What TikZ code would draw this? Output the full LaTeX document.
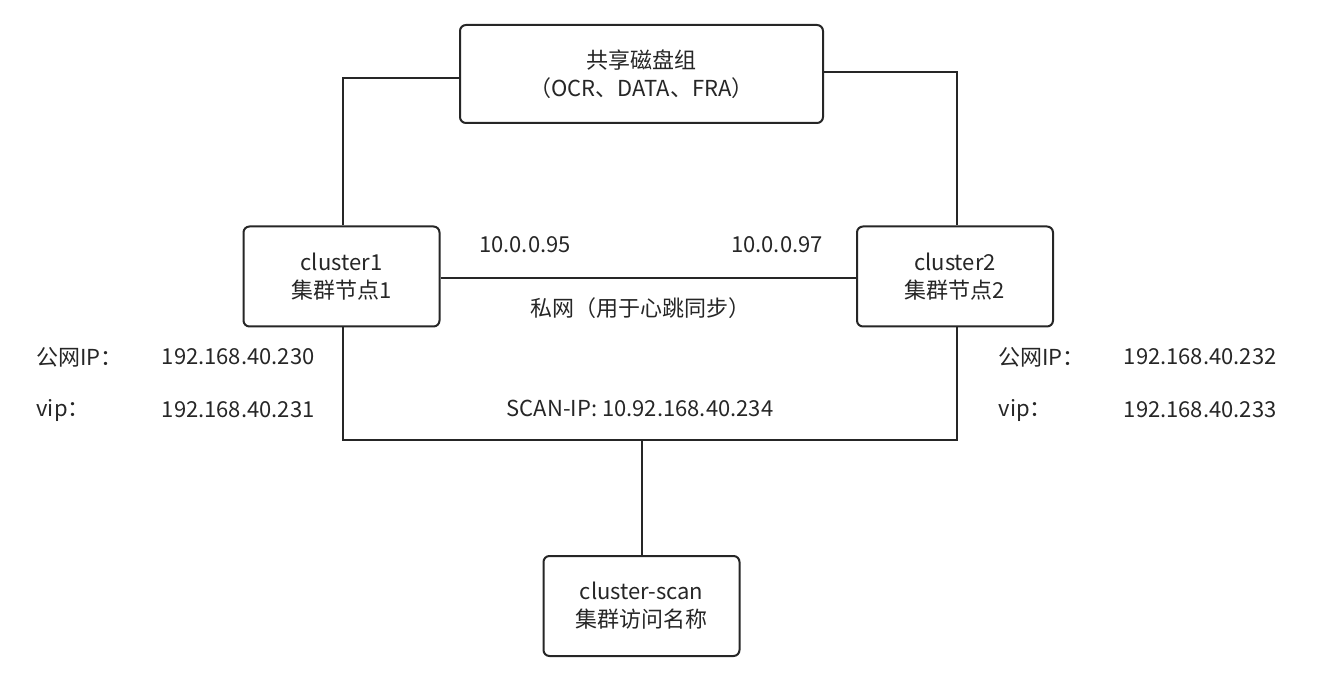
\documentclass[tikz,border=0pt]{standalone}
\usepackage{fontspec}
\setmainfont{Noto Sans CJK SC}
\usetikzlibrary{positioning}
\begin{document}
\begin{tikzpicture}[x=1pt, y=-1pt,
  every node/.style = {font=\fontsize{22}{28}\selectfont, text=black!85},
  box/.style = {draw=black!85, line width=2pt, rounded corners=6pt, fill=white,
                minimum width=196pt, minimum height=100pt, align=center},
  wire/.style = {draw=black!85, line width=2pt}
                    ]
\useasboundingbox (0,0) rectangle (1336,692);
\node (disk) [box, minimum width=363pt, minimum height=98pt] at (641.5,74) {共享磁盘组\\（OCR、DATA、FRA）};
\node (c1) [box] at (341.5,276.5) {cluster1\\集群节点1};
\node (c2) [box] at (955,276.5) {cluster2\\集群节点2};
\node (scan) [box] at (641.5,606) {cluster-scan\\集群访问名称};
%
\coordinate (bus) at (641.5,440);
\draw[wire] (disk.west |- 0,78) -| (c1.north -| 343,0);
\draw[wire] (disk.east |- 0,72) -| (c2.north -| 957,0);
\draw[wire] (c1.east |- 0,278) -- (c2.west |- 0,278);
\draw[wire] (c1.south -| 343,0) |- (bus) -| (c2.south -| 957,0);
\draw[wire] (bus) -- (scan.north);
%
\node (ip1) at (525,245) {10.0.0.95};
\node (ip2) at (777,245) {10.0.0.97};
\node (priv) at (640,308) {私网（用于心跳同步）};
\node (sip) at (640,408) {SCAN-IP: 10.92.168.40.234};
\node (pub1) [anchor=west] at (33,357) {公网IP：};
\node (pub1v) [anchor=east] at (318,357) {192.168.40.230};
\node (vip1) [anchor=west] at (33,410) {vip：};
\node (vip1v) [anchor=east] at (318,410) {192.168.40.231};
\node (pub2) [anchor=west] at (995,357) {公网IP：};
\node (pub2v) [anchor=east] at (1280,357) {192.168.40.232};
\node (vip2) [anchor=west] at (995,410) {vip：};
\node (vip2v) [anchor=east] at (1280,410) {192.168.40.233};
\end{tikzpicture}
\end{document}
